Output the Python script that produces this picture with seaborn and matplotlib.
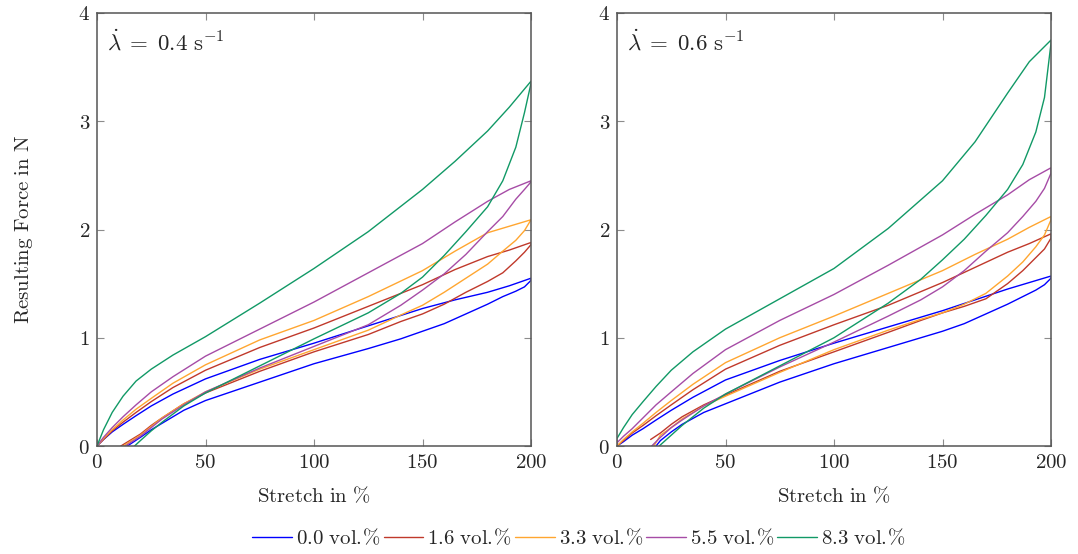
import matplotlib
matplotlib.use("Agg")
import matplotlib.pyplot as plt
from matplotlib.ticker import FuncFormatter
import pandas as pd
import seaborn as sns

# materials and colours
materials = ["0.0", "1.6", "3.3", "5.5", "8.3"]
colors = ["#0000ff", "#c0392b", "#ffa630", "#a64ca6", "#119966"]
rates = ["0.4", "0.6"]

# stretch positions of the loading branch (shared)
x_load = [0, 3, 7, 12, 18, 25, 35, 50, 75, 100, 125, 150, 165, 180, 190, 200]
# stretch positions of the unloading branch after its start point (shared)
x_unload = [20, 25, 30, 40, 50, 75, 100, 125, 140, 150, 160, 170, 180, 187, 193, 197, 200]

# ---- rate 0.4 1/s ----
load_04 = {
    "0.0": [0, 0.06, 0.13, 0.20, 0.28, 0.37, 0.48, 0.62, 0.80, 0.95, 1.11, 1.27, 1.35, 1.42, 1.48, 1.55],
    "1.6": [0, 0.06, 0.14, 0.22, 0.31, 0.41, 0.54, 0.70, 0.91, 1.09, 1.29, 1.49, 1.63, 1.75, 1.81, 1.88],
    "3.3": [0, 0.07, 0.15, 0.24, 0.34, 0.44, 0.58, 0.75, 0.98, 1.16, 1.38, 1.62, 1.80, 1.97, 2.03, 2.09],
    "5.5": [0, 0.08, 0.17, 0.27, 0.38, 0.50, 0.64, 0.83, 1.08, 1.33, 1.60, 1.87, 2.07, 2.26, 2.37, 2.45],
    "8.3": [0, 0.15, 0.31, 0.46, 0.60, 0.71, 0.84, 1.01, 1.32, 1.64, 1.98, 2.37, 2.63, 2.91, 3.13, 3.37],
}
start_04 = {"0.0": (14, 0), "1.6": (11, 0), "3.3": (12, 0), "5.5": (13, 0), "8.3": (17.3, 0)}
unload_04 = {
    "0.0": [0.08, 0.15, 0.21, 0.33, 0.42, 0.59, 0.76, 0.90, 0.99, 1.06, 1.13, 1.22, 1.31, 1.38, 1.43, 1.47, 1.53],
    "1.6": [0.11, 0.19, 0.26, 0.39, 0.49, 0.69, 0.87, 1.03, 1.15, 1.22, 1.31, 1.42, 1.52, 1.60, 1.71, 1.79, 1.86],
    "3.3": [0.10, 0.18, 0.26, 0.39, 0.50, 0.71, 0.89, 1.07, 1.21, 1.30, 1.42, 1.55, 1.68, 1.80, 1.90, 1.99, 2.09],
    "5.5": [0.09, 0.17, 0.25, 0.38, 0.50, 0.72, 0.92, 1.12, 1.30, 1.44, 1.59, 1.77, 1.98, 2.12, 2.28, 2.37, 2.44],
    "8.3": [0.05, 0.14, 0.22, 0.37, 0.49, 0.74, 0.99, 1.23, 1.41, 1.56, 1.76, 1.98, 2.21, 2.45, 2.76, 3.08, 3.35],
}

# ---- rate 0.6 1/s ----
load_06 = {
    "0.0": [0, 0.04, 0.10, 0.16, 0.24, 0.33, 0.45, 0.61, 0.79, 0.95, 1.10, 1.25, 1.35, 1.45, 1.51, 1.57],
    "1.6": [0, 0.05, 0.12, 0.19, 0.28, 0.38, 0.52, 0.71, 0.93, 1.12, 1.30, 1.51, 1.65, 1.79, 1.87, 1.96],
    "3.3": [0, 0.06, 0.13, 0.21, 0.31, 0.42, 0.57, 0.77, 1.00, 1.20, 1.41, 1.62, 1.77, 1.91, 2.02, 2.12],
    "5.5": [0.03, 0.09, 0.16, 0.26, 0.38, 0.50, 0.67, 0.89, 1.16, 1.40, 1.67, 1.95, 2.14, 2.32, 2.46, 2.57],
    "8.3": [0.07, 0.17, 0.29, 0.41, 0.55, 0.70, 0.87, 1.08, 1.36, 1.64, 2.01, 2.45, 2.81, 3.26, 3.55, 3.75],
}
start_06 = {"0.0": (18, 0), "1.6": (15.5, 0.06), "3.3": (17, 0), "5.5": (16, 0), "8.3": (19.5, 0)}
unload_06 = {
    "0.0": [0.05, 0.13, 0.20, 0.31, 0.39, 0.59, 0.76, 0.91, 1.00, 1.06, 1.13, 1.22, 1.31, 1.38, 1.44, 1.49, 1.55],
    "1.6": [0.12, 0.20, 0.27, 0.38, 0.47, 0.69, 0.87, 1.05, 1.16, 1.23, 1.29, 1.36, 1.50, 1.62, 1.74, 1.82, 1.92],
    "3.3": [0.10, 0.17, 0.25, 0.37, 0.46, 0.68, 0.89, 1.07, 1.17, 1.23, 1.31, 1.41, 1.57, 1.70, 1.84, 1.95, 2.09],
    "5.5": [0.08, 0.17, 0.24, 0.37, 0.48, 0.73, 0.96, 1.20, 1.35, 1.47, 1.62, 1.80, 1.97, 2.12, 2.26, 2.38, 2.52],
    "8.3": [0.01, 0.10, 0.19, 0.35, 0.48, 0.74, 1.00, 1.32, 1.54, 1.72, 1.91, 2.13, 2.37, 2.60, 2.90, 3.22, 3.72],
}

panels = {"0.4": (load_04, start_04, unload_04), "0.6": (load_06, start_06, unload_06)}


def build_frame(load, start, unload):
    # one closed loop per material: loading up, then unloading back down
    rows = []
    for m in materials:
        xs = list(x_load) + list(reversed([start[m][0]] + x_unload))
        ys = list(load[m]) + list(reversed([start[m][1]] + unload[m]))
        for x, y in zip(xs, ys):
            rows.append({"material": m, "stretch": x, "force": y})
    return pd.DataFrame(rows)


sns.set_theme(style="ticks")
plt.rcParams["mathtext.fontset"] = "cm"
plt.rcParams["font.family"] = ["DejaVu Serif"]

fig = plt.figure(figsize=(10.78, 5.54), dpi=100)
ax1 = fig.add_axes([97 / 1078, 108 / 554, 434 / 1078, 433 / 554])
ax2 = fig.add_axes([617 / 1078, 108 / 554, 434 / 1078, 433 / 554])

palette = dict(zip(materials, colors))
fmt = FuncFormatter(lambda v, p: r"$%g$" % v)

for ax, rate in zip([ax1, ax2], rates):
    df = build_frame(*panels[rate])
    sns.lineplot(data=df, x="stretch", y="force", hue="material", palette=palette,
                 sort=False, estimator=None, linewidth=1.0, ax=ax)
    ax.set_xlim(0, 200)
    ax.set_ylim(0, 4)
    ax.set_xticks([0, 50, 100, 150, 200])
    ax.set_yticks([0, 1, 2, 3, 4])
    ax.xaxis.set_major_formatter(fmt)
    ax.yaxis.set_major_formatter(fmt)
    ax.tick_params(direction="in", top=True, right=True, length=5, width=0.8,
                   color="#8c8c8c", labelsize=15, pad=5)
    for sp in ax.spines.values():
        sp.set_color("#555555")
        sp.set_linewidth(1.1)
    ax.set_xlabel(r"$\mathrm{Stretch\ in\ \%}$", fontsize=15, labelpad=10)
    ax.set_ylabel("")
    ax.text(0.023, 0.933, r"$\dot{\lambda}\;=\;%s\ \mathrm{s}^{-1}$" % rate,
            transform=ax.transAxes, fontsize=16.5, va="center", ha="left")
    ax.get_legend().remove()

ax1.set_ylabel(r"$\mathrm{Resulting\ Force\ in\ N}$", fontsize=15, labelpad=31)

handles, labels = ax1.get_legend_handles_labels()
fig.legend(handles, [r"$\mathrm{%s\ vol.\!\%%}$" % l for l in labels],
           loc="center", bbox_to_anchor=(579 / 1078, 1 - 538 / 554), ncol=5, frameon=False,
           fontsize=15, handlelength=1.9, handletextpad=0.2, columnspacing=0.15)

fig.savefig("out.png", dpi=100)
